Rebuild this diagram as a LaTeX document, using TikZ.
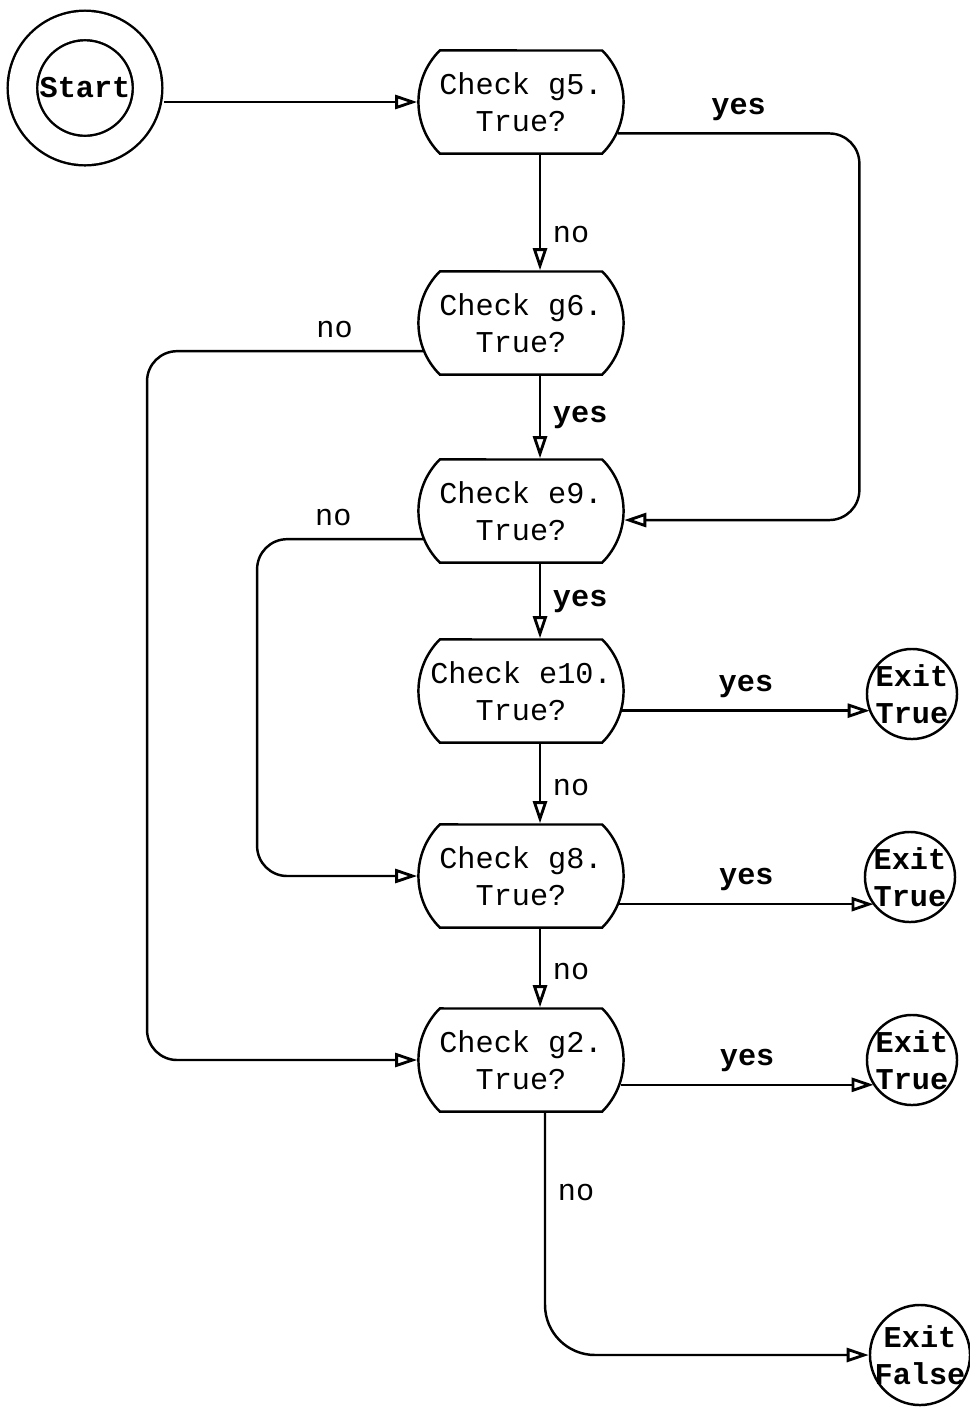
\documentclass[tikz,border=0pt]{standalone}
\usepackage{fontspec}
\setmonofont{Liberation Mono}
\usetikzlibrary{shapes.misc,arrows.meta}

\begin{document}
\begin{tikzpicture}[x=0.01cm, y=-0.01cm, line width=0.7pt,
        check/.style={rounded rectangle, rounded rectangle arc length=90, draw, inner xsep=0pt, minimum width=2.05cm, minimum height=1.03cm, align=center, font=\ttfamily\fontsize{8.6}{10.5}\selectfont},
        exitc/.style={circle, draw, minimum size=0.9cm, inner sep=-0.1cm, align=center, font=\ttfamily\bfseries\fontsize{8.6}{10.5}\selectfont},
        yeslbl/.style={font=\ttfamily\bfseries\fontsize{8.6}{10}\selectfont},
        nolbl/.style={font=\ttfamily\fontsize{8.6}{10}\selectfont},
        flow/.style={-{Triangle[open, length=2.2mm, width=1.4mm, line width=0.8pt]}, rounded corners=0.3cm}]

    \useasboundingbox (0,0) rectangle (970,1408);

    % Start
    \node[circle, draw, double, double distance=0.27cm, minimum size=1.25cm, font=\ttfamily\bfseries\fontsize{8.6}{10}\selectfont] (start) at (85,88) {Start};

    % Checks
    \node[check] (g5) at (521,102) {Check g5.\\True?};
    \node[check] (g6) at (521,323) {Check g6.\\True?};
    \node[check] (e9) at (521,511) {Check e9.\\True?};
    \node[check] (e10) at (521,691) {Check e10.\\True?};
    \node[check] (g8) at (521,876) {Check g8.\\True?};
    \node[check] (g2) at (521,1060) {Check g2.\\True?};

    % Exits
    \node[exitc] (ex1) at (912,694) {Exit\\True};
    \node[exitc] (ex2) at (910,877) {Exit\\True};
    \node[exitc] (ex3) at (912,1060) {Exit\\True};
    \node[exitc, minimum size=1cm] (ex4) at (920,1355) {Exit\\False};

    % Connectors
    \draw[flow] ([xshift=0.15cm]g5.west -| start.east) -- (g5.west);
    \draw[flow] (g5.-18) -| ([xshift=2.35cm]e9.-5) node[yeslbl, above, pos=0.25] {yes} -- (e9.-5);
    \draw[flow] ([xshift=0.19cm]g5.south) -- node[nolbl, right, pos=0.69] {no} ([xshift=0.19cm]g6.north);
    \draw[flow] (g6.196) -| ([xshift=-2.7cm]g2.west) node[nolbl, above, pos=0.16] {no} -- (g2.west);
    \draw[flow] ([xshift=0.19cm]g6.south) -- node[yeslbl, right, pos=0.5] {yes} ([xshift=0.19cm]e9.north);
    \draw[flow] (e9.196) -| ([xshift=-1.6cm]g8.west) node[nolbl, above, pos=0.27] {no} -- (g8.west);
    \draw[flow] ([xshift=0.19cm]e9.south) -- node[yeslbl, right, pos=0.5] {yes} ([xshift=0.19cm]e10.north);
    \draw[flow] (e10.-11) -- node[yeslbl, above] {yes} (e10.-11 -| ex1.204);
    \draw[flow] ([xshift=0.19cm]e10.south) -- node[nolbl, right, pos=0.55] {no} ([xshift=0.19cm]g8.north);
    \draw[flow] (g8.-16) -- node[yeslbl, above] {yes} (g8.-16 -| ex2.218);
    \draw[flow] ([xshift=0.19cm]g8.south) -- node[nolbl, right, pos=0.55] {no} ([xshift=0.19cm]g2.north);
    \draw[flow] (g2.-14) -- node[yeslbl, above] {yes} (g2.-14 -| ex3.214);
    \draw[flow, rounded corners=0.5cm] ([xshift=0.24cm]g2.south) |- node[nolbl, right, pos=0.165] {no} (ex4.west);
\end{tikzpicture}
\end{document}
